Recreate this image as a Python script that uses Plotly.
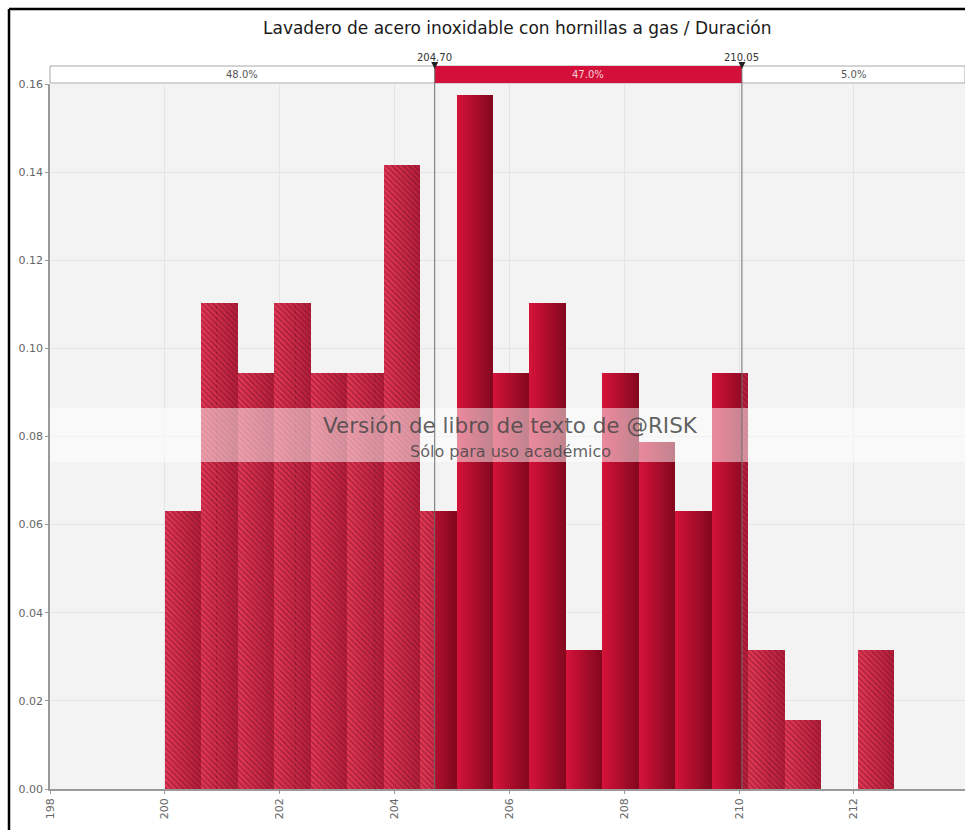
import plotly.graph_objects as go

# ---- data -------------------------------------------------------------
chart_title = "Lavadero de acero inoxidable con hornillas a gas / Duración"
bin_start = 200.0
bin_width = 0.635
density = [0.0630, 0.1102, 0.0945, 0.1102, 0.0945, 0.0945, 0.1417, 0.0630,
           0.1575, 0.0945, 0.1102, 0.0315, 0.0945, 0.0787, 0.0630, 0.0945,
           0.0315, 0.0157, 0.0000, 0.0315]
mark_low = 204.70
mark_high = 210.05
region_labels = ["48.0%", "47.0%", "5.0%"]
x_ticks = [198, 200, 202, 204, 206, 208, 210, 212, 214]
y_ticks = [0.00, 0.02, 0.04, 0.06, 0.08, 0.10, 0.12, 0.14, 0.16]
watermark_main = "Versión de libro de texto de @RISK"
watermark_sub = "Sólo para uso académico"

# ---- geometry of the page ---------------------------------------------
W, H = 965, 830
ML, MR, MT, MB = 50, 0, 84, 41
PW, PH = W - ML - MR, H - MT - MB
X_MIN = 198.0
X_MAX = X_MIN + PW / 57.42


def px(xp):
    return (xp - ML) / PW


def py(yp):
    return (H - MB - yp) / PH


def mix(c1, c2, t):
    return "#%02x%02x%02x" % tuple(round(a + (b - a) * t) for a, b in zip(c1, c2))


SOLID_L, SOLID_R = (214, 18, 58), (130, 8, 30)
HATCH_L, HATCH_R = (230, 56, 86), (180, 30, 58)
SLICES = 12

solid = dict(x=[], w=[], y=[], c=[])
hatch = dict(x=[], w=[], y=[], c=[])
for i, h in enumerate(density):
    a = bin_start + i * bin_width
    b = a + bin_width
    if h <= 0:
        continue
    cuts = [a + k * bin_width / SLICES for k in range(SLICES + 1)]
    cuts += [m for m in (mark_low, mark_high) if a < m < b]
    cuts = sorted(set(cuts))
    for s0, s1 in zip(cuts[:-1], cuts[1:]):
        mid = (s0 + s1) / 2
        t = (mid - a) / bin_width
        inside = mark_low <= mid <= mark_high
        dst = solid if inside else hatch
        dst["x"].append(mid)
        dst["w"].append((s1 - s0) * 1.02)
        dst["y"].append(h)
        dst["c"].append(mix(SOLID_L, SOLID_R, t) if inside else mix(HATCH_L, HATCH_R, t))

fig = go.Figure()
# hatched bars outside the delimited range: gradient base + diagonal hatch
fig.add_trace(go.Bar(
    x=hatch["x"], y=hatch["y"], width=hatch["w"],
    marker=dict(color=hatch["c"], line_width=0),
    hoverinfo="skip", showlegend=False))
fig.add_trace(go.Bar(
    x=hatch["x"], y=hatch["y"], width=hatch["w"],
    marker=dict(color="rgba(0,0,0,0)", line_width=0,
                pattern=dict(shape="\\", size=4, solidity=0.35,
                             fgcolor="#6a0e22", fgopacity=0.5,
                             bgcolor="rgba(0,0,0,0)", fillmode="replace")),
    hoverinfo="skip", showlegend=False))
# solid bars inside the delimited range
fig.add_trace(go.Bar(
    x=solid["x"], y=solid["y"], width=solid["w"],
    marker=dict(color=solid["c"], line_width=0),
    hoverinfo="skip", showlegend=False))

shapes = []
# outer frame (top and left edges)
shapes.append(dict(type="line", xref="paper", yref="paper",
                   x0=px(9), x1=px(W + 5), y0=py(9), y1=py(9),
                   line=dict(color="#000000", width=2.5)))
shapes.append(dict(type="line", xref="paper", yref="paper",
                   x0=px(9), x1=px(9), y0=py(9), y1=py(H + 5),
                   line=dict(color="#000000", width=2.5)))
# translucent watermark band
shapes.append(dict(type="rect", xref="paper", yref="paper",
                   x0=0, x1=1, y0=py(462), y1=py(408),
                   fillcolor="rgba(255,255,255,0.5)", line_width=0, layer="above"))
# region strip above the plot
strip_top, strip_bot = py(66), py(83)
shapes.append(dict(type="rect", xref="paper", yref="paper",
                   x0=0, x1=1, y0=strip_bot, y1=strip_top,
                   fillcolor="#ffffff", line=dict(color="#a8a8a8", width=1)))
shapes.append(dict(type="rect", xref="x", yref="paper",
                   x0=mark_low, x1=mark_high, y0=strip_bot, y1=strip_top,
                   fillcolor="#d4103a", line_width=0))
# delimiter lines and markers
tri_w = 0.06
for m in (mark_low, mark_high):
    shapes.append(dict(type="line", xref="x", yref="paper",
                       x0=m, x1=m, y0=0, y1=strip_top,
                       line=dict(color="#6e6e6e", width=1), layer="above"))
    shapes.append(dict(type="path", xref="x", yref="paper",
                       path=f"M {m - tri_w},{py(62)} L {m + tri_w},{py(62)} L {m},{py(69)} Z",
                       fillcolor="#202020", line_width=0, layer="above"))


def note(text, x, y, size, color, xref="paper"):
    return dict(text=text, xref=xref, yref="paper", x=x, y=y,
                xanchor="center", yanchor="middle", showarrow=False,
                font=dict(family="DejaVu Sans", size=size, color=color))


annotations = [
    note(chart_title, px(517), py(28), 17, "#1a1a1a"),
    note(f"{mark_low:.2f}", mark_low, py(57), 10, "#333333", xref="x"),
    note(f"{mark_high:.2f}", mark_high, py(57), 10, "#333333", xref="x"),
    note(region_labels[0], (mark_low - X_MIN) / (X_MAX - X_MIN) / 2, py(74.5), 10, "#555555"),
    note(region_labels[1], (mark_low + mark_high) / 2, py(74.5), 10, "#f4d0d6", xref="x"),
    note(region_labels[2], ((mark_high - X_MIN) / (X_MAX - X_MIN) + 1) / 2, py(74.5), 10, "#555555"),
    note(watermark_main, px(510), py(425), 21.5, "rgba(70,70,70,0.85)"),
    note(watermark_sub, px(510), py(451), 16, "rgba(70,70,70,0.85)"),
]

fig.update_layout(
    width=W, height=H,
    margin=dict(l=ML, r=MR, t=MT, b=MB, pad=0),
    paper_bgcolor="#ffffff", plot_bgcolor="#f3f3f3",
    barmode="overlay", bargap=0,
    shapes=shapes, annotations=annotations,
    font=dict(family="DejaVu Sans", size=11, color="#666666"),
)
fig.update_xaxes(
    range=[X_MIN, X_MAX], tickvals=x_ticks, ticktext=[str(v) for v in x_ticks],
    tickangle=-90, showgrid=True, gridcolor="#e4e4e4", gridwidth=1,
    showline=True, linecolor="#9a9a9a", linewidth=1.5,
    ticks="outside", ticklen=3, tickcolor="#9a9a9a",
    tickfont=dict(size=11, color="#666666"), zeroline=False,
)
fig.update_yaxes(
    range=[0, 0.16], tickvals=y_ticks, ticktext=[f"{v:.2f}" for v in y_ticks],
    showgrid=True, gridcolor="#e4e4e4", gridwidth=1,
    showline=True, linecolor="#9a9a9a", linewidth=1.5,
    ticks="outside", ticklen=3, tickcolor="#9a9a9a",
    tickfont=dict(size=11, color="#666666"), zeroline=False,
)

fig.write_html("out.html")
